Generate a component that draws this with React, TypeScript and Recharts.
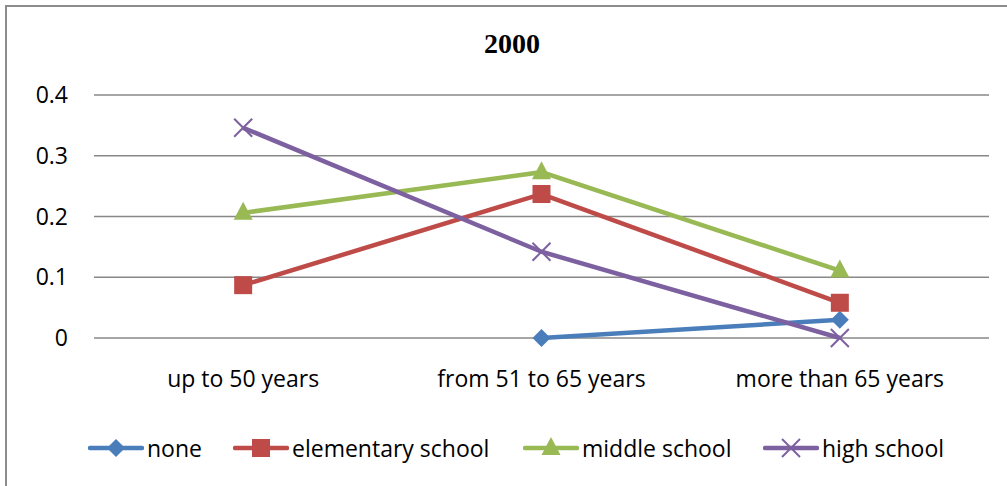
import { LineChart, Line, XAxis, YAxis, CartesianGrid } from 'recharts';

const ageGroups = ['up to 50 years', 'from 51 to 65 years', 'more than 65 years'];
const noneValues = [null, 0, 0.03];
const elementaryValues = [0.087, 0.237, 0.058];
const middleValues = [0.206, 0.273, 0.111];
const highValues = [0.346, 0.142, 0];
const yTicks = [0, 0.1, 0.2, 0.3, 0.4];

const FONT = '"Open Sans", Lato, sans-serif';

const data = ageGroups.map((group, i) => ({
  group,
  none: noneValues[i],
  elementary: elementaryValues[i],
  middle: middleValues[i],
  high: highValues[i],
}));

const Diamond = ({ cx, cy, color }: any) => (
  <polygon points={`${cx},${cy - 9} ${cx + 9},${cy} ${cx},${cy + 9} ${cx - 9},${cy}`} fill={color} />
);
const Square = ({ cx, cy, color }: any) => (
  <rect x={cx - 9} y={cy - 9} width={18} height={18} fill={color} />
);
const Triangle = ({ cx, cy, color }: any) => (
  <polygon points={`${cx},${cy - 11} ${cx + 9.5},${cy + 7} ${cx - 9.5},${cy + 7}`} fill={color} />
);
const Cross = ({ cx, cy, color }: any) => (
  <g stroke={color} strokeWidth={2}>
    <line x1={cx - 9} y1={cy - 9} x2={cx + 9} y2={cy + 9} />
    <line x1={cx - 9} y1={cy + 9} x2={cx + 9} y2={cy - 9} />
  </g>
);

const series = [
  { key: 'none', name: 'none', color: '#4a7ebb', Marker: Diamond, left: 88 },
  { key: 'elementary', name: 'elementary school', color: '#be4b48', Marker: Square, left: 233 },
  { key: 'middle', name: 'middle school', color: '#98b954', Marker: Triangle, left: 523 },
  { key: 'high', name: 'high school', color: '#7d60a0', Marker: Cross, left: 763 },
];

const dot = (Marker: any, color: string) => (props: any) => {
  if (props.value == null || props.cy == null) return <g key={props.key} />;
  return <Marker key={props.key} cx={props.cx} cy={props.cy} color={color} />;
};

export default function App() {
  return (
    <div style={{ position: 'absolute', left: 0, top: 0, width: 1007, height: 486, background: '#fff', overflow: 'hidden' }}>
      <div style={{ position: 'absolute', left: 5, top: 5, width: 1100, height: 600, border: '2px solid #8c8c8c' }} />
      <div style={{ position: 'absolute', left: 0, top: 27, width: 1024, textAlign: 'center', fontFamily: '"Liberation Serif", "DejaVu Serif", serif', fontWeight: 'bold', fontSize: 28, lineHeight: '34px' }}>
        2000
      </div>
      <div style={{ position: 'absolute', left: 0, top: 0 }}>
        <LineChart width={1007} height={486} data={data} margin={{ top: 95, right: 18, left: 40, bottom: 88 }}>
          <CartesianGrid vertical={false} stroke="#888" strokeWidth={1.5} />
          <XAxis
            dataKey="group"
            scale="band"
            axisLine={false}
            tickLine={false}
            height={60}
            tick={{ fontSize: 23, fill: '#000', fontFamily: FONT }}
            tickMargin={27}
          />
          <YAxis
            domain={[0, 0.4]}
            ticks={yTicks}
            width={54}
            axisLine={false}
            tickLine={false}
            tickMargin={20}
            tickFormatter={(v: number) => (v === 0 ? '0' : String(v))}
            tick={{ fontSize: 23, fill: '#000', fontFamily: FONT }}
          />
          {series.map((s) => (
            <Line
              key={s.key}
              dataKey={s.key}
              name={s.name}
              stroke={s.color}
              strokeWidth={4.5}
              dot={dot(s.Marker, s.color)}
              activeDot={false}
              isAnimationActive={false}
            />
          ))}
        </LineChart>
      </div>
      {series.map((s) => (
        <div key={s.key} style={{ position: 'absolute', left: s.left, top: 434, height: 28, display: 'flex', alignItems: 'center' }}>
          <svg width={56} height={28}>
            <line x1={2} y1={14} x2={54} y2={14} stroke={s.color} strokeWidth={4.5} strokeLinecap="round" />
            <s.Marker cx={28} cy={14} color={s.color} />
          </svg>
          <span style={{ marginLeft: 3, fontSize: 23, fontFamily: FONT, color: '#000' }}>{s.name}</span>
        </div>
      ))}
    </div>
  );
}
